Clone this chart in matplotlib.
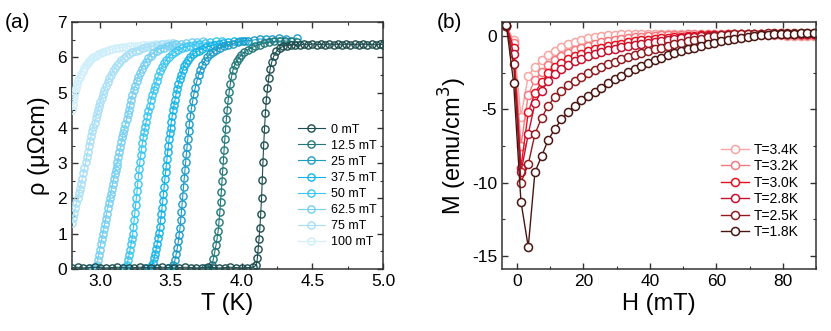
import matplotlib
matplotlib.use("Agg")
import matplotlib.pyplot as plt
import numpy as np
from matplotlib.ticker import MultipleLocator

plt.rcParams["font.family"] = ["Liberation Sans", "DejaVu Sans"]
plt.rcParams["axes.unicode_minus"] = False

# ---------------- panel (a): rho(T) at several fields, (T [K], rho [uOhm cm]) ----------------
fields = ["0 mT", "12.5 mT", "25 mT", "37.5 mT", "50 mT", "62.5 mT", "75 mT", "100 mT"]

rho_0 = np.array([
    (2.80, 0.04), (2.84, 0.05), (2.88, 0.03), (2.92, 0.04), (2.96, 0.05), (3.00, 0.04),
    (3.04, 0.03), (3.08, 0.04), (3.12, 0.05), (3.16, 0.04), (3.20, 0.03), (3.24, 0.04),
    (3.28, 0.05), (3.32, 0.04), (3.36, 0.03), (3.40, 0.04), (3.44, 0.05), (3.48, 0.04),
    (3.52, 0.03), (3.56, 0.04), (3.60, 0.05), (3.64, 0.04), (3.68, 0.03), (3.72, 0.04),
    (3.76, 0.05), (3.80, 0.04), (3.84, 0.03), (3.88, 0.04), (3.92, 0.05), (3.96, 0.04),
    (4.00, 0.03), (4.04, 0.04), (4.08, 0.05),
    (4.105, 0.11), (4.111, 0.30), (4.117, 0.58), (4.123, 0.84), (4.129, 1.16), (4.135, 1.56),
    (4.141, 2.02), (4.146, 2.52), (4.151, 3.04), (4.156, 3.52), (4.162, 3.98), (4.168, 4.42),
    (4.175, 4.80), (4.183, 5.12), (4.192, 5.42), (4.202, 5.68), (4.214, 5.88), (4.228, 6.04),
    (4.246, 6.17), (4.268, 6.26), (4.293, 6.31),
    (4.32, 6.33), (4.35, 6.35), (4.38, 6.36), (4.41, 6.34), (4.44, 6.37), (4.47, 6.35),
    (4.50, 6.38), (4.53, 6.36), (4.56, 6.37), (4.59, 6.35), (4.62, 6.38), (4.65, 6.36),
    (4.68, 6.37), (4.71, 6.35), (4.74, 6.38), (4.77, 6.36), (4.80, 6.37), (4.83, 6.35),
    (4.86, 6.38), (4.89, 6.36), (4.92, 6.37), (4.95, 6.35), (4.98, 6.37), (5.00, 6.36),
])

rho_12 = np.array([
    (3.740, 0.03), (3.770, 0.04), (3.788, 0.10), (3.800, 0.28), (3.810, 0.48), (3.819, 0.68),
    (3.827, 0.88), (3.834, 1.08), (3.840, 1.34), (3.846, 1.62), (3.851, 1.90), (3.856, 2.18),
    (3.861, 2.48), (3.866, 2.78), (3.871, 3.08), (3.876, 3.38), (3.881, 3.68), (3.886, 3.96),
    (3.892, 4.24), (3.898, 4.52), (3.905, 4.78), (3.912, 5.02), (3.920, 5.25), (3.929, 5.46),
    (3.939, 5.64), (3.951, 5.78), (3.965, 5.89), (3.981, 5.98), (3.999, 6.07), (4.020, 6.14),
    (4.044, 6.21), (4.070, 6.27), (4.098, 6.32), (4.128, 6.36), (4.160, 6.40), (4.194, 6.43),
    (4.230, 6.45), (4.268, 6.46), (4.308, 6.46), (4.350, 6.45), (4.394, 6.44),
])

rho_25 = np.array([
    (3.480, 0.03), (3.505, 0.04), (3.518, 0.10), (3.528, 0.25), (3.537, 0.42), (3.545, 0.60),
    (3.552, 0.78), (3.558, 0.96), (3.564, 1.15), (3.569, 1.38), (3.574, 1.61), (3.579, 1.84),
    (3.584, 2.08), (3.589, 2.33), (3.594, 2.57), (3.599, 2.80), (3.604, 3.03), (3.609, 3.25),
    (3.614, 3.47), (3.619, 3.68), (3.625, 3.90), (3.631, 4.12), (3.638, 4.34), (3.645, 4.55),
    (3.653, 4.75), (3.662, 4.95), (3.672, 5.14), (3.683, 5.32), (3.695, 5.49), (3.708, 5.64),
    (3.722, 5.78), (3.738, 5.90), (3.756, 6.00), (3.776, 6.08), (3.798, 6.15), (3.822, 6.21),
    (3.848, 6.27), (3.876, 6.32), (3.906, 6.36), (3.938, 6.39), (3.972, 6.42), (4.008, 6.45),
    (4.046, 6.47), (4.086, 6.49), (4.128, 6.52), (4.172, 6.51), (4.218, 6.52), (4.266, 6.55),
    (4.316, 6.52), (4.390, 6.54),
])

rho_37 = np.array([
    (3.330, 0.03), (3.350, 0.04), (3.362, 0.08), (3.372, 0.18), (3.381, 0.30), (3.389, 0.43),
    (3.396, 0.57), (3.403, 0.72), (3.410, 0.87), (3.416, 1.02), (3.422, 1.20), (3.427, 1.38),
    (3.432, 1.56), (3.437, 1.74), (3.442, 1.92), (3.447, 2.12), (3.452, 2.33), (3.457, 2.54),
    (3.462, 2.74), (3.467, 2.93), (3.472, 3.12), (3.477, 3.31), (3.482, 3.50), (3.487, 3.68),
    (3.492, 3.85), (3.497, 4.01), (3.503, 4.18), (3.509, 4.34), (3.515, 4.50), (3.522, 4.65),
    (3.529, 4.80), (3.536, 4.95), (3.544, 5.10), (3.552, 5.24), (3.561, 5.38), (3.571, 5.51),
    (3.582, 5.63), (3.594, 5.74), (3.607, 5.84), (3.621, 5.93), (3.637, 6.01), (3.655, 6.08),
    (3.675, 6.14), (3.697, 6.19), (3.721, 6.24), (3.747, 6.28), (3.775, 6.32), (3.805, 6.35),
    (3.837, 6.38), (3.871, 6.41), (3.907, 6.43), (3.945, 6.45), (3.985, 6.46), (4.027, 6.47),
])

rho_50 = np.array([
    (3.160, 0.03), (3.178, 0.05), (3.188, 0.12), (3.196, 0.25), (3.204, 0.40), (3.211, 0.55),
    (3.218, 0.70), (3.224, 0.85), (3.230, 1.00), (3.235, 1.20), (3.240, 1.40), (3.245, 1.60),
    (3.250, 1.80), (3.255, 2.00), (3.260, 2.20), (3.265, 2.42), (3.270, 2.63), (3.275, 2.84),
    (3.280, 3.03), (3.286, 3.22), (3.292, 3.40), (3.298, 3.57), (3.304, 3.73), (3.311, 3.88),
    (3.318, 4.03), (3.325, 4.18), (3.333, 4.33), (3.341, 4.48), (3.349, 4.63), (3.358, 4.78),
    (3.367, 4.92), (3.377, 5.06), (3.387, 5.20), (3.398, 5.34), (3.410, 5.47), (3.423, 5.60),
    (3.437, 5.72), (3.452, 5.83), (3.468, 5.93), (3.486, 6.02), (3.506, 6.09), (3.528, 6.15),
    (3.552, 6.20), (3.578, 6.25), (3.606, 6.29), (3.636, 6.33), (3.668, 6.36), (3.702, 6.39),
    (3.738, 6.41), (3.776, 6.43), (3.816, 6.45), (3.858, 6.46),
])

rho_62 = np.array([
    (2.930, 0.03), (2.950, 0.03), (2.965, 0.05), (2.975, 0.12), (2.982, 0.25), (2.989, 0.40),
    (2.996, 0.55), (3.003, 0.70), (3.010, 0.84), (3.017, 0.98), (3.024, 1.12), (3.031, 1.27),
    (3.038, 1.42), (3.045, 1.57), (3.052, 1.72), (3.059, 1.86), (3.066, 2.00), (3.073, 2.13),
    (3.080, 2.27), (3.087, 2.41), (3.094, 2.55), (3.101, 2.68), (3.108, 2.80), (3.115, 2.92),
    (3.122, 3.04), (3.129, 3.17), (3.136, 3.31), (3.143, 3.46), (3.150, 3.60), (3.157, 3.73),
    (3.164, 3.86), (3.171, 3.98), (3.178, 4.10), (3.186, 4.24), (3.194, 4.38), (3.202, 4.52),
    (3.210, 4.66), (3.218, 4.79), (3.227, 4.93), (3.236, 5.06), (3.246, 5.19), (3.257, 5.32),
    (3.268, 5.44), (3.280, 5.56), (3.293, 5.67), (3.307, 5.78), (3.322, 5.88), (3.338, 5.97),
    (3.356, 6.05), (3.376, 6.12), (3.398, 6.18), (3.422, 6.23), (3.448, 6.27), (3.476, 6.31),
    (3.506, 6.34), (3.538, 6.37), (3.572, 6.39), (3.608, 6.41), (3.646, 6.43), (3.686, 6.44),
    (3.728, 6.45),
])

rho_75 = np.array([
    (2.800, 1.30), (2.808, 1.45), (2.816, 1.60), (2.824, 1.74), (2.832, 1.88), (2.840, 2.01),
    (2.848, 2.14), (2.856, 2.28), (2.864, 2.42), (2.872, 2.56), (2.880, 2.71), (2.888, 2.86),
    (2.896, 3.02), (2.904, 3.18), (2.912, 3.33), (2.920, 3.49), (2.928, 3.64), (2.936, 3.78),
    (2.944, 3.91), (2.952, 4.03), (2.960, 4.15), (2.968, 4.27), (2.976, 4.39), (2.984, 4.51),
    (2.992, 4.62), (3.000, 4.73), (3.010, 4.85), (3.020, 4.97), (3.030, 5.08), (3.040, 5.19),
    (3.052, 5.30), (3.064, 5.41), (3.077, 5.51), (3.090, 5.60), (3.104, 5.69), (3.118, 5.77),
    (3.133, 5.85), (3.149, 5.92), (3.166, 5.98), (3.184, 6.04), (3.204, 6.09), (3.226, 6.14),
    (3.250, 6.18), (3.276, 6.22), (3.304, 6.26), (3.334, 6.29), (3.366, 6.32), (3.400, 6.35),
    (3.436, 6.37), (3.474, 6.39), (3.514, 6.40),
])

rho_100 = np.array([
    (2.800, 4.50), (2.805, 4.65), (2.810, 4.78), (2.815, 4.90), (2.822, 5.02), (2.830, 5.14),
    (2.838, 5.25), (2.846, 5.35), (2.855, 5.45), (2.865, 5.54), (2.875, 5.62), (2.886, 5.70),
    (2.898, 5.77), (2.910, 5.84), (2.923, 5.90), (2.937, 5.95), (2.952, 6.00), (2.968, 6.05),
    (2.985, 6.09), (3.003, 6.13), (3.022, 6.16), (3.042, 6.19), (3.063, 6.21), (3.085, 6.23),
    (3.108, 6.25), (3.132, 6.27), (3.157, 6.28), (3.183, 6.30), (3.210, 6.31), (3.240, 6.32),
    (3.270, 6.33), (3.300, 6.34), (3.330, 6.35), (3.360, 6.36), (3.390, 6.37), (3.420, 6.38),
    (3.450, 6.39), (3.480, 6.40), (3.510, 6.40),
])

rho_curves = [rho_0, rho_12, rho_25, rho_37, rho_50, rho_62, rho_75, rho_100]
colors_a = ["#1f4e50", "#23797a", "#1e9cc8", "#16b4e6", "#3cc6f0", "#74cff2", "#a6dff6", "#cdeefb"]

# ---------------- panel (b): M(H) at several temperatures ----------------
temps = ["T=3.4K", "T=3.2K", "T=3.0K", "T=2.8K", "T=2.5K", "T=1.8K"]
H = np.array([-3.2, -1.0, 1.2, 3.4, 5.4, 7.4, 9.4, 11.4, 13.4, 15.4, 17.4, 19.4, 21.4, 23.4,
              25.4, 27.4, 29.4, 31.4, 33.4, 35.4, 37.4, 39.4, 41.4, 43.4, 45.4, 47.4, 49.4,
              51.4, 53.4, 55.4, 57.4, 59.4, 61.4, 63.4, 65.4, 67.4, 69.4, 71.4, 73.4, 75.4,
              77.4, 79.4, 81.4, 83.4, 85.4, 87.4, 89.4])

M_34 = [0.7, -0.3, -5.5, -2.73, -2.1, -1.65, -1.3, -1.0, -0.76, -0.56, -0.4, -0.27, -0.16,
        -0.07, 0.0, 0.05, 0.08, 0.1, 0.11, 0.12, 0.12, 0.12, 0.12, 0.12, 0.11, 0.11, 0.1, 0.1,
        0.09, 0.09, 0.08, 0.08, 0.07, 0.07, 0.06, 0.06, 0.05, 0.05, 0.04, 0.04, 0.03, 0.03,
        0.02, 0.02, 0.01, 0.01, 0.0]
M_32 = [0.7, -0.5, -7.5, -4.0, -3.0, -2.45, -2.0, -1.65, -1.38, -1.15, -0.96, -0.8, -0.66,
        -0.54, -0.44, -0.35, -0.28, -0.21, -0.15, -0.1, -0.06, -0.02, 0.01, 0.04, 0.06, 0.08,
        0.09, 0.1, 0.11, 0.12, 0.12, 0.13, 0.13, 0.13, 0.13, 0.13, 0.12, 0.12, 0.11, 0.11, 0.1,
        0.1, 0.09, 0.09, 0.08, 0.08, 0.07]
M_30 = [0.7, -0.8, -9.0, -5.2, -3.9, -3.15, -2.55, -2.15, -1.83, -1.58, -1.38, -1.2, -1.05,
        -0.92, -0.8, -0.7, -0.61, -0.52, -0.44, -0.37, -0.31, -0.25, -0.2, -0.15, -0.11, -0.07,
        -0.04, -0.01, 0.02, 0.04, 0.06, 0.08, 0.09, 0.1, 0.11, 0.12, 0.13, 0.13, 0.14, 0.14,
        0.14, 0.15, 0.15, 0.15, 0.15, 0.15, 0.15]
M_28 = [0.7, -1.2, -9.3, -6.7, -4.6, -3.75, -3.05, -2.6, -2.25, -1.97, -1.74, -1.55, -1.38,
        -1.23, -1.1, -0.98, -0.87, -0.77, -0.68, -0.6, -0.52, -0.45, -0.38, -0.32, -0.26, -0.2,
        -0.15, -0.1, -0.06, -0.02, 0.01, 0.04, 0.06, 0.08, 0.1, 0.11, 0.12, 0.13, 0.14, 0.14,
        0.15, 0.15, 0.15, 0.16, 0.16, 0.16, 0.16]
M_25 = [0.7, -1.9, -10.0, -8.75, -6.7, -5.6, -4.77, -4.15, -3.73, -3.36, -3.06, -2.77, -2.53,
        -2.31, -2.1, -1.92, -1.75, -1.59, -1.44, -1.3, -1.17, -1.04, -0.92, -0.8, -0.69, -0.58,
        -0.47, -0.37, -0.27, -0.18, -0.1, -0.03, 0.03, 0.07, 0.1, 0.12, 0.14, 0.15, 0.16, 0.17,
        0.18, 0.18, 0.19, 0.19, 0.2, 0.2, 0.2]
M_18 = [0.75, -3.2, -11.3, -14.4, -9.3, -8.2, -7.1, -6.35, -5.7, -5.2, -4.78, -4.4, -4.1,
        -3.8, -3.52, -3.24, -2.97, -2.73, -2.48, -2.25, -2.05, -1.85, -1.66, -1.48, -1.32,
        -1.18, -1.05, -0.92, -0.79, -0.67, -0.56, -0.46, -0.37, -0.28, -0.2, -0.12, -0.05, 0.0,
        0.04, 0.07, 0.1, 0.12, 0.14, 0.16, 0.17, 0.18, 0.19]

M_curves = [M_34, M_32, M_30, M_28, M_25, M_18]
colors_b = ["#f6a5a3", "#f47a80", "#e8101e", "#c4122f", "#8e1b1e", "#4a1612"]


fig = plt.figure(figsize=(8.31, 3.31), dpi=100)
ax1 = fig.add_axes([0.0866, 0.1873, 0.3743, 0.7462])
ax2 = fig.add_axes([0.6041, 0.1873, 0.3779, 0.7462])

#
# (a) resistivity
#
for i, (data, lab, c) in enumerate(zip(rho_curves, fields, colors_a)):
    ax1.plot(data[:, 0], data[:, 1], "-o", color=c, lw=0.8, ms=5.2, mew=1.0,
             mfc="none", mec=c, label=lab, zorder=10 - i)
ax1.set_xlim(2.8, 5.0)
ax1.set_ylim(0, 7)
ax1.xaxis.set_major_locator(MultipleLocator(0.5))
ax1.xaxis.set_minor_locator(MultipleLocator(0.25))
ax1.yaxis.set_major_locator(MultipleLocator(1))
ax1.yaxis.set_minor_locator(MultipleLocator(0.5))
ax1.set_xlabel("T (K)", fontsize=17, labelpad=3)
ax1.set_ylabel("ρ (μΩcm)", fontsize=17, labelpad=5)
ax1.legend(loc="lower left", bbox_to_anchor=(0.705, 0.058), frameon=False, fontsize=9,
           handlelength=2.2, handletextpad=0.45, labelspacing=0.33, borderpad=0)

#
# (b) magnetization
#
for data, lab, c in zip(M_curves, temps, colors_b):
    ax2.plot(H, data, "-o", color=c, lw=1.0, ms=5.8, mew=1.1, mfc="white", mec=c, label=lab)
ax2.set_xlim(-4.5, 90)
ax2.set_ylim(-15.9, 0.95)
ax2.xaxis.set_major_locator(MultipleLocator(20))
ax2.xaxis.set_minor_locator(MultipleLocator(10))
ax2.yaxis.set_major_locator(MultipleLocator(5))
ax2.yaxis.set_minor_locator(MultipleLocator(2.5))
ax2.set_xlabel("H (mT)", fontsize=17, labelpad=3)
ax2.set_ylabel("M (emu/cm$^3$)", fontsize=17, labelpad=2)
ax2.legend(loc="lower left", bbox_to_anchor=(0.675, 0.092), frameon=False, fontsize=10,
           handlelength=2.0, handletextpad=0.35, labelspacing=0.18, borderpad=0)

for ax in (ax1, ax2):
    ax.tick_params(which="both", direction="in", top=True, right=True, labelsize=12.5,
                   color="#333333")
    ax.tick_params(which="major", length=4.5, width=1)
    ax.tick_params(which="minor", length=2.5, width=0.8)
    for s in ax.spines.values():
        s.set_linewidth(1.1)
        s.set_color("#333333")

fig.text(0.006, 0.96, "(a)", fontsize=15, va="top")
fig.text(0.526, 0.96, "(b)", fontsize=15, va="top")

fig.savefig("out.png", dpi=100)
